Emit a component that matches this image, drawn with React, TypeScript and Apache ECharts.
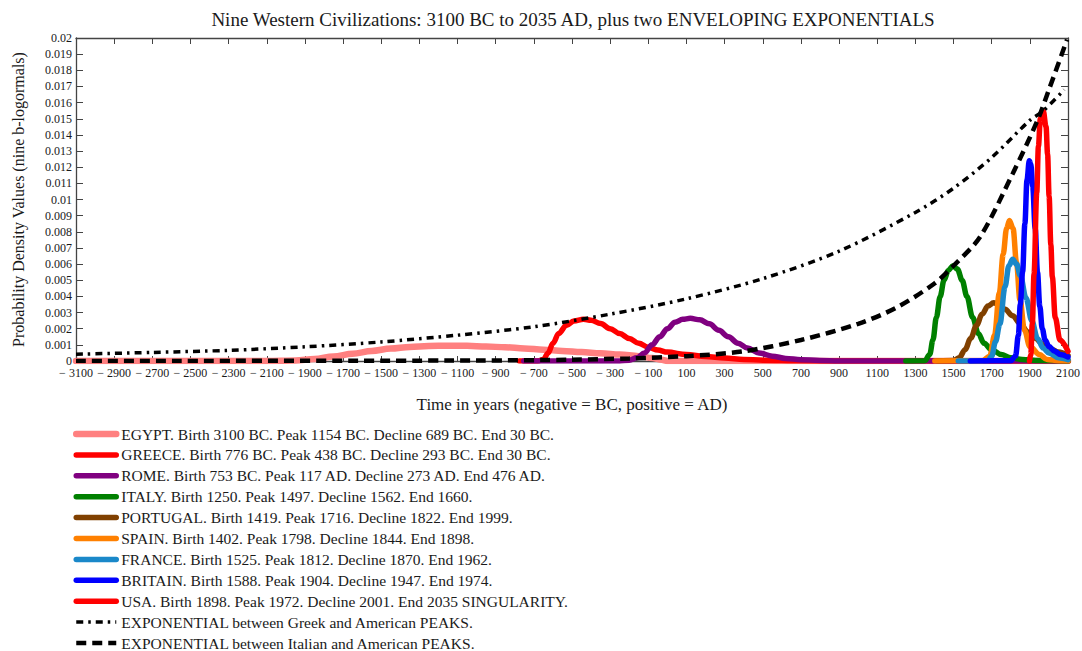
import React, { useEffect, useRef } from "react";
import * as echarts from "echarts";

const TITLE = "Nine Western Civilizations: 3100 BC to 2035 AD, plus two ENVELOPING EXPONENTIALS";
const X_NAME = "Time in years (negative = BC, positive = AD)";
const Y_NAME = "Probability Density Values (nine b-logormals)";

const X_TICKS = [-3100, -2900, -2700, -2500, -2300, -2100, -1900, -1700, -1500, -1300, -1100, -900, -700, -500, -300, -100, 100, 300, 500, 700, 900, 1100, 1300, 1500, 1700, 1900, 2100];

const EGYPT: number[][] = [[-3100, 0], [-2100, 0], [-1950, 0.00003], [-1850, 0.00012], [-1750, 0.00028], [-1650, 0.00045], [-1550, 0.00062], [-1450, 0.00077], [-1350, 0.00087], [-1250, 0.00093], [-1150, 0.00095], [-1050, 0.00094], [-950, 0.0009], [-850, 0.00085], [-750, 0.00078], [-650, 0.0007], [-550, 0.00062], [-450, 0.00055], [-350, 0.00048], [-250, 0.0004], [-150, 0.0003], [-80, 0.00018], [-30, 0.00008], [0, 0], [2100, 0]];
const GREECE: number[][] = [[-776, 0], [-680, 0], [-650, 0.0001], [-625, 0.0005], [-600, 0.0011], [-570, 0.0017], [-530, 0.0022], [-490, 0.00248], [-440, 0.00258], [-400, 0.00252], [-350, 0.00232], [-300, 0.002], [-250, 0.0017], [-200, 0.0014], [-150, 0.0011], [-100, 0.00085], [-50, 0.00068], [0, 0.00055], [100, 0.0004], [200, 0.00028], [300, 0.00018], [400, 0.0001], [500, 0.00005], [700, 0.00001], [900, 0], [2100, 0]];
const ROME: number[][] = [[-753, 0], [-250, 0], [-200, 0.00005], [-160, 0.0002], [-120, 0.0005], [-80, 0.001], [-40, 0.0015], [0, 0.002], [40, 0.0024], [80, 0.00258], [120, 0.00264], [170, 0.00255], [220, 0.0023], [270, 0.0019], [320, 0.0015], [370, 0.0011], [420, 0.0008], [480, 0.0005], [550, 0.0003], [620, 0.00016], [700, 0.00008], [800, 0.00003], [900, 0], [2100, 0]];
const ITALY: number[][] = [[1250, 0], [1350, 0.00002], [1375, 0.0004], [1392, 0.0013], [1410, 0.0027], [1430, 0.004], [1450, 0.005], [1472, 0.0056], [1497, 0.0059], [1520, 0.0057], [1545, 0.005], [1570, 0.004], [1600, 0.0027], [1630, 0.0017], [1660, 0.0011], [1700, 0.0007], [1750, 0.0004], [1800, 0.0002], [1860, 0.0001], [1950, 0.00003], [2100, 0]];
const PORTUGAL: number[][] = [[1419, 0], [1500, 0.00003], [1530, 0.0002], [1560, 0.0007], [1590, 0.0014], [1620, 0.0022], [1650, 0.0029], [1680, 0.0034], [1710, 0.0036], [1740, 0.0035], [1770, 0.0032], [1810, 0.0028], [1850, 0.0023], [1890, 0.0018], [1930, 0.0014], [1970, 0.001], [2010, 0.00075], [2050, 0.00055], [2100, 0.00035]];
const SPAIN: number[][] = [[1402, 0], [1650, 0.00002], [1690, 0.0003], [1715, 0.0016], [1740, 0.0042], [1760, 0.0066], [1778, 0.0082], [1793, 0.0087], [1812, 0.0082], [1830, 0.0061], [1848, 0.0038], [1872, 0.0019], [1900, 0.0009], [1950, 0.0004], [1990, 0.0001], [2050, 0.00002], [2100, 0]];
const FRANCE: number[][] = [[1525, 0], [1680, 0.00002], [1700, 0.0003], [1720, 0.0012], [1743, 0.0023], [1770, 0.0046], [1790, 0.0059], [1810, 0.0063], [1830, 0.006], [1850, 0.0053], [1880, 0.0039], [1910, 0.0025], [1940, 0.0014], [1970, 0.0008], [2000, 0.0005], [2050, 0.0002], [2100, 0.00008]];
const BRITAIN: number[][] = [[1588, 0], [1800, 0.00002], [1825, 0.0003], [1840, 0.0016], [1850, 0.0035], [1862, 0.0055], [1874, 0.0085], [1885, 0.0112], [1897, 0.0124], [1905, 0.0122], [1915, 0.0108], [1928, 0.0082], [1940, 0.0055], [1952, 0.0034], [1965, 0.002], [1980, 0.0013], [2000, 0.0009], [2030, 0.0006], [2060, 0.0004], [2100, 0.00025]];
const USA: number[][] = [[1898, 0], [1905, 0.0004], [1913, 0.0023], [1922, 0.0054], [1936, 0.0104], [1945, 0.0133], [1955, 0.015], [1970, 0.0155], [1985, 0.0145], [1993, 0.0128], [2001, 0.0102], [2010, 0.0072], [2018, 0.0052], [2033, 0.0027], [2058, 0.0013], [2100, 0.0006]];
const EXP_GREEK_US: number[][] = [[-3100, 0.00042], [-2700, 0.00053], [-2300, 0.00066], [-1900, 0.00088], [-1500, 0.00118], [-1100, 0.0016], [-700, 0.00212], [-300, 0.0029], [100, 0.00385], [500, 0.0051], [900, 0.0068], [1300, 0.0092], [1500, 0.0107], [1700, 0.0126], [1900, 0.0149], [1972, 0.0155], [2080, 0.0168]];
const EXP_ITALY_US: number[][] = [[-3100, 0], [-1000, 0.00003], [-500, 0.00008], [-200, 0.00016], [100, 0.0003], [400, 0.0006], [700, 0.0013], [1000, 0.0023], [1200, 0.0033], [1400, 0.0048], [1500, 0.0059], [1640, 0.0077], [1810, 0.0116], [1940, 0.0149], [2000, 0.0168], [2095, 0.0199]];

const CIV_NAMES = [
  "EGYPT. Birth 3100 BC. Peak 1154 BC. Decline 689 BC. End 30 BC.",
  "GREECE. Birth 776 BC. Peak 438 BC. Decline 293 BC. End 30 BC.",
  "ROME. Birth 753 BC. Peak 117 AD. Decline 273 AD. End 476 AD.",
  "ITALY. Birth 1250. Peak 1497. Decline 1562. End 1660.",
  "PORTUGAL. Birth 1419. Peak 1716. Decline 1822. End 1999.",
  "SPAIN. Birth 1402. Peak 1798. Decline 1844. End 1898.",
  "FRANCE. Birth 1525. Peak 1812. Decline 1870. End 1962.",
  "BRITAIN. Birth 1588. Peak 1904. Decline 1947. End 1974.",
  "USA. Birth 1898. Peak 1972. Decline 2001. End 2035 SINGULARITY.",
];
const EXP_NAMES = [
  "EXPONENTIAL between Greek and American PEAKS.",
  "EXPONENTIAL between Italian and American PEAKS.",
];
const CIV_DATA = [EGYPT, GREECE, ROME, ITALY, PORTUGAL, SPAIN, FRANCE, BRITAIN, USA];
const CIV_COLORS = ["#ff8080", "#ff0000", "#800080", "#008000", "#804000", "#ff8000", "#1a88c9", "#0000ff", "#ff0000"];

const FONT = "'Liberation Serif', 'Times New Roman', serif";
const TXT = "#1a1a1a";
const FRAME = "#444";

export default function App() {
  const ref = useRef<HTMLDivElement>(null);
  useEffect(() => {
    const chart = echarts.init(ref.current!, null, { renderer: "svg" });
    const civSeries = CIV_DATA.map((d, i) => ({
      name: CIV_NAMES[i],
      type: "line",
      data: d,
      xAxisIndex: 0,
      yAxisIndex: 0,
      showSymbol: false,
      symbol: "circle",
      smooth: 0.35,
      smoothMonotone: "x",
      color: CIV_COLORS[i],
      lineStyle: { width: i === 0 ? 6.5 : 5.5, color: CIV_COLORS[i], cap: "round", join: "round" },
      z: 2 + i,
    }));
    const option: any = {
      animation: false,
      backgroundColor: "#fff",
      textStyle: { fontFamily: FONT },
      title: {
        text: TITLE,
        left: 568,
        textAlign: "center",
        top: 5,
        textStyle: { fontFamily: FONT, fontSize: 19, fontWeight: "normal", color: TXT },
      },
      grid: { left: 76, right: 14, top: 38, bottom: 290, containLabel: false, outerBoundsMode: "none" },
      legend: {
        orient: "vertical",
        left: 73,
        top: 426,
        height: 260,
        padding: 0,
        itemWidth: 40,
        itemHeight: 10,
        itemGap: 4.9,
        selectedMode: false,
        textStyle: { fontFamily: FONT, fontSize: 15.5, color: TXT },
        itemStyle: { opacity: 0 },
        lineStyle: { width: "inherit" },
        data: [...CIV_NAMES, ...EXP_NAMES],
      },
      xAxis: [
        {
          type: "value",
          min: -3100,
          max: 2100,
          position: "bottom",
          name: X_NAME,
          nameLocation: "middle",
          nameGap: 35,
          nameTextStyle: { fontFamily: FONT, fontSize: 17, color: TXT },
          axisLine: { show: true, onZero: false, lineStyle: { color: FRAME, width: 1.3 } },
          axisTick: { show: true, inside: true, length: 5, customValues: X_TICKS, lineStyle: { color: FRAME } },
          axisLabel: {
            customValues: X_TICKS,
            margin: 6,
            fontFamily: FONT,
            fontSize: 12,
            color: TXT,
            formatter: (v: number) => (v < 0 ? "\u2212 " + -v : String(v)),
          },
          splitLine: { show: false },
        },
        {
          type: "value",
          min: -3100,
          max: 2100,
          position: "top",
          axisLine: { show: true, onZero: false, lineStyle: { color: FRAME, width: 1.3 } },
          axisTick: { show: true, inside: true, length: 6, customValues: X_TICKS, lineStyle: { color: FRAME } },
          axisLabel: { show: false },
          splitLine: { show: false },
        },
      ],
      yAxis: [
        {
          type: "value",
          min: 0,
          max: 0.02,
          interval: 0.001,
          position: "left",
          name: Y_NAME,
          nameLocation: "middle",
          nameRotate: 90,
          nameGap: 50,
          nameTextStyle: { fontFamily: FONT, fontSize: 16, color: TXT },
          axisLine: { show: true, onZero: false, lineStyle: { color: FRAME, width: 1.3 } },
          axisTick: { show: true, inside: true, length: 7, lineStyle: { color: FRAME } },
          axisLabel: { margin: 4, fontFamily: FONT, fontSize: 12, color: TXT },
          splitLine: { show: false },
        },
        {
          type: "value",
          min: 0,
          max: 0.02,
          interval: 0.001,
          position: "right",
          axisLine: { show: true, onZero: false, lineStyle: { color: FRAME, width: 1.3 } },
          axisTick: { show: true, inside: true, length: 7, lineStyle: { color: FRAME } },
          axisLabel: { show: false },
          splitLine: { show: false },
        },
      ],
      series: [
        ...civSeries,
        {
          name: EXP_NAMES[0],
          type: "line",
          data: EXP_GREEK_US,
          showSymbol: false,
          symbol: "circle",
          smooth: 0.3,
          color: "#000",
          lineStyle: { width: 3.5, color: "#000", type: [7, 5, 2.5, 5] },
          z: 20,
        },
        {
          name: EXP_NAMES[1],
          type: "line",
          data: EXP_ITALY_US,
          showSymbol: false,
          symbol: "circle",
          smooth: 0.3,
          color: "#000",
          lineStyle: { width: 4.5, color: "#000", type: [10, 6] },
          z: 21,
        },
      ],
    };
    chart.setOption(option);
    return () => chart.dispose();
  }, []);
  return (
    <div
      ref={ref}
      style={{ position: "fixed", left: 0, top: 0, width: 1082, height: 651, background: "#fff" }}
    />
  );
}
